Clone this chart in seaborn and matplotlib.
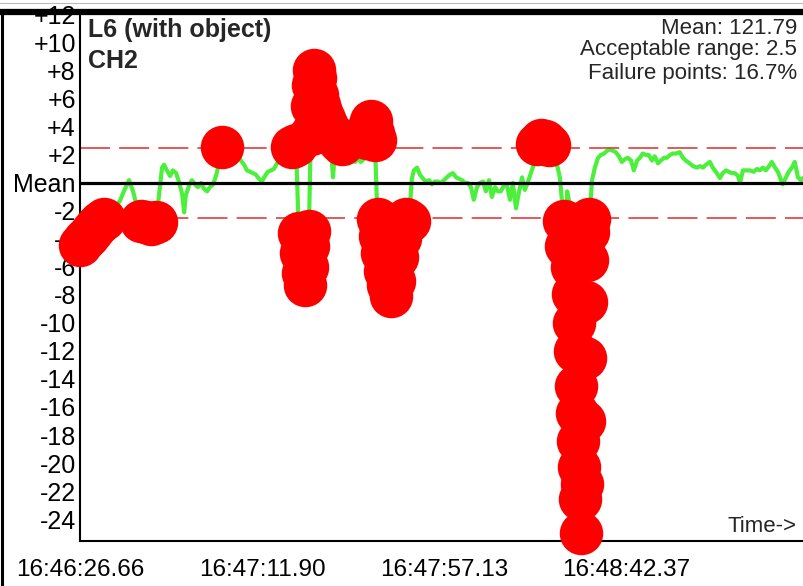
import numpy as np
import pandas as pd
import matplotlib
matplotlib.use("Agg")
import matplotlib.pyplot as plt
from matplotlib.lines import Line2D
import seaborn as sns

# Elapsed seconds since 16:46:26.66 and deviation of CH2 from its mean
seconds = [0.0, 1.0, 2.0, 3.0, 4.0, 5.0, 6.0, 7.0, 8.0, 8.9, 9.9, 10.9, 12.2, 13.2, 13.9,
           15.2, 16.4, 17.6, 18.9, 19.6, 20.4, 20.9, 21.6, 22.4, 23.1, 23.9, 24.6, 25.4,
           25.9, 26.3, 27.1, 27.8, 28.6, 29.3, 30.1, 30.8, 31.6, 32.3, 33.1, 33.8, 34.6,
           35.3, 36.3, 37.3, 38.3, 39.3, 40.0, 40.8, 41.5, 42.3, 43.0, 43.7, 44.5, 45.2,
           46.0, 46.7, 47.5, 48.2, 49.0, 49.7, 50.7, 51.7, 52.7, 53.7, 54.4, 54.9, 55.4,
           55.9, 56.4, 56.7, 56.9, 57.4, 57.7, 57.9, 58.2, 58.4, 58.9, 59.4, 59.9, 60.7,
           61.4, 62.1, 62.9, 63.6, 64.4, 65.1, 66.1, 66.9, 67.6, 68.4, 69.1, 69.8, 70.6,
           71.3, 71.8, 72.3, 72.8, 73.3, 73.8, 74.1, 74.6, 75.1, 75.8, 76.6, 77.3, 78.1,
           78.8, 79.5, 80.3, 81.0, 81.8, 82.5, 83.0, 83.8, 84.5, 85.3, 86.0, 86.8, 87.5,
           88.2, 89.0, 89.7, 90.5, 91.2, 92.0, 92.7, 93.5, 94.2, 95.0, 95.7, 96.4, 97.2,
           97.9, 98.7, 99.4, 100.2, 100.9, 101.7, 102.4, 103.2, 103.9, 104.6, 105.4, 106.1,
           106.9, 107.6, 108.4, 109.1, 109.9, 110.6, 111.4, 112.1, 112.9, 113.6, 114.6,
           115.6, 116.6, 117.6, 118.6, 119.3, 119.8, 120.3, 120.8, 121.1, 121.6, 121.8,
           122.0, 122.3, 122.5, 122.8, 123.0, 123.3, 123.5, 123.8, 124.0, 124.3, 124.5,
           124.8, 125.3, 125.5, 125.8, 126.0, 126.3, 126.5, 126.8, 127.3, 128.0, 128.8,
           129.5, 130.3, 131.0, 131.7, 132.5, 133.2, 134.0, 134.7, 135.5, 136.2, 137.0,
           137.7, 138.5, 139.2, 139.9, 140.7, 141.4, 142.2, 142.9, 143.7, 144.4, 145.2,
           145.9, 146.7, 147.4, 148.1, 149.1, 149.9, 150.6, 151.6, 152.4, 153.4, 154.1,
           154.9, 155.6, 156.6, 157.3, 158.1, 159.1, 159.8, 160.6, 161.3, 162.1, 162.8,
           163.6, 164.1, 164.8, 165.8, 166.5, 167.5, 168.3, 169.0, 169.8, 170.5, 171.3,
           172.0, 172.8, 173.5, 174.3, 174.7, 175.5, 176.2, 177.0, 177.7, 178.5, 179.2,
           180.0]
deviation = [-4.4, -4.1, -3.8, -3.4, -3.1, -2.8, -2.6, -1.3, -1.4, -1.6, -1.3, -0.6, 0.2, -0.6,
             -1.4, -2.7, -2.8, -2.9, -2.8, -1.0, 1.1, 1.3, 0.9, 0.5, 0.9, 0.7, 0.1, -0.8,
             -2.1, -0.9, -0.2, 0.2, -0.1, -0.3, 0.0, -0.4, -0.6, -0.3, -0.1, 0.5, 1.4,
             2.6, 1.5, 1.9, 2.1, 1.9, 1.6, 1.3, 0.9, 0.8, 0.7, 0.6, 0.3, 0.1,
             0.5, 0.8, 0.9, 1.0, 1.4, 1.7, 2.0, 2.2, 2.6, 2.7, -3.6, -5.0, -6.4,
             -7.3, -6.0, -4.5, -3.4, 3.5, 5.5, 7.0, 8.1, 7.5, 6.3, 5.6, 5.1, 4.6,
             4.1, 3.6, 0.4, 3.3, 3.0, 2.8, 1.6, 1.4, 1.7, 1.5, 1.8, 1.5, 1.7,
             3.2, 4.0, 4.4, 3.6, 3.1, -1.2, -2.6, -3.8, -5.0, -6.3, -7.3, -8.1, -7.0,
             -5.3, -3.9, -2.9, -2.6, -2.7, 0.3, 0.9, 1.1, 0.6, 0.3, 0.1, 0.2, -0.1,
             0.1, 0.1, 0.0, 0.2, 0.4, 0.6, 0.7, 0.4, 0.3, 0.2, 0.0, 0.0, -0.3,
             -1.2, -0.3, 0.0, 0.1, -0.6, 0.2, -1.0, -0.3, -0.6, -0.6, -0.2, -0.1,
             -1.2, 0.0, -1.8, -0.7, 0.4, -0.5, 0.1, 0.7, 1.4, 2.8, 3.1,
             3.0, 2.7, 1.5, 1.3, 0.4, -1.2, -2.7, -4.5, -0.6, -1.3, -3.0,
             -4.5, -6.0, -7.9, -10.0, -12.0, -14.5, -16.4, -18.4, -20.3, -22.6, -25.0,
             -21.5, -17.0, -12.5, -8.5, -5.5, -3.5, -2.6, -1.9, 0.2, 1.1, 1.8,
             2.0, 2.1, 2.3, 2.4, 2.3, 2.2, 1.9, 1.5, 1.7, 1.8, 1.6,
             0.9, 1.6, 1.8, 2.1, 2.0, 2.0, 1.6, 1.9, 1.4, 1.6, 1.8,
             1.8, 2.0, 2.1, 2.1, 2.2, 1.8, 1.6, 1.4, 1.2, 1.1, 1.2,
             1.1, 1.3, 1.5, 1.1, 0.8, 0.35, 0.7, 0.9, 0.8, 0.7, 0.7,
             0.5, 0.0, 0.9, 0.9, 0.9, 0.8, 1.0, 0.9, 1.1, 0.9, 1.2,
             1.5, 1.1, 0.8, 0.2, -0.1, 0.4, 0.8, 1.1, 1.5, 0.4, 0.2,
             0.4]

mean_value = 121.79
acceptable_range = 2.5
failure_text = "16.7%"

tick_seconds = [0, 45.24, 90.47, 135.71]
tick_labels = ["16:46:26.66", "16:47:11.90", "16:47:57.13", "16:48:42.37"]
y_ticks = list(range(12, -25, -2))

df = pd.DataFrame({"t": seconds, "dev": deviation})
fails = df[df["dev"].abs() > acceptable_range]

sns.set_style("white")
plt.rcParams["font.family"] = ["Liberation Sans", "DejaVu Sans"]

fig = plt.figure(figsize=(8.04, 5.86), dpi=100)
ax = fig.add_axes([80 / 804, 45 / 586, 724 / 804, 529 / 586])

sns.lineplot(data=df, x="t", y="dev", color="#4cf03c", linewidth=3.0,
             sort=False, estimator=None, ax=ax, zorder=2)
ax.axhline(0, color="black", linewidth=2.3, zorder=2.5)
for lim in (acceptable_range, -acceptable_range):
    ax.axhline(lim, color="#e23b3b", linewidth=1.2, dashes=(18, 5.5), zorder=2.4)
sns.scatterplot(data=fails, x="t", y="dev", color="#ff0000", s=980, linewidth=0,
                ax=ax, zorder=4, clip_on=False, legend=False)

ax.set_xlim(0, 180)
ax.set_ylim(-25.57, 12.21)
ax.set_xticks(tick_seconds)
ax.set_xticklabels(tick_labels, fontsize=17.5)
ax.set_yticks(y_ticks)
ax.set_yticklabels(["Mean" if v == 0 else (f"+{v}" if v > 0 else str(v)) for v in y_ticks],
                   fontsize=18)
ax.tick_params(axis="y", direction="in", length=8, width=1.5, pad=3, colors="black")
ax.tick_params(axis="x", direction="in", length=8, width=1.5, pad=13, colors="black")
ax.set_xlabel("")
ax.set_ylabel("")
for side in ("top", "right"):
    ax.spines[side].set_visible(False)
for side in ("left", "bottom"):
    ax.spines[side].set_color("black")
    ax.spines[side].set_linewidth(1.5)

# frame pieces of the original screenshot
fig.add_artist(Line2D([0, 1], [1 - 3 / 586, 1 - 3 / 586], color="#bbbbbb", linewidth=0.8))
fig.add_artist(Line2D([0, 1], [1 - 12 / 586, 1 - 12 / 586], color="black", linewidth=4.5))
fig.add_artist(Line2D([2 / 804, 2 / 804], [0, 1 - 12 / 586], color="black", linewidth=2.2))

fig.text(88 / 804, 1 - 30 / 586, "L6 (with object)", fontsize=18, fontweight="bold",
         ha="left", va="center")
fig.text(88 / 804, 1 - 61 / 586, "CH2", fontsize=18, fontweight="bold",
         ha="left", va="center")
fig.text(797 / 804, 1 - 28 / 586, f"Mean: {mean_value}", fontsize=16, ha="right", va="center")
fig.text(797 / 804, 1 - 50 / 586, f"Acceptable range: {acceptable_range}", fontsize=16,
         ha="right", va="center")
fig.text(797 / 804, 1 - 73 / 586, f"Failure points: {failure_text}", fontsize=16,
         ha="right", va="center")
fig.text(797 / 804, 1 - 527 / 586, "Time->", fontsize=16, ha="right", va="center")

fig.savefig("out.png", dpi=100)
